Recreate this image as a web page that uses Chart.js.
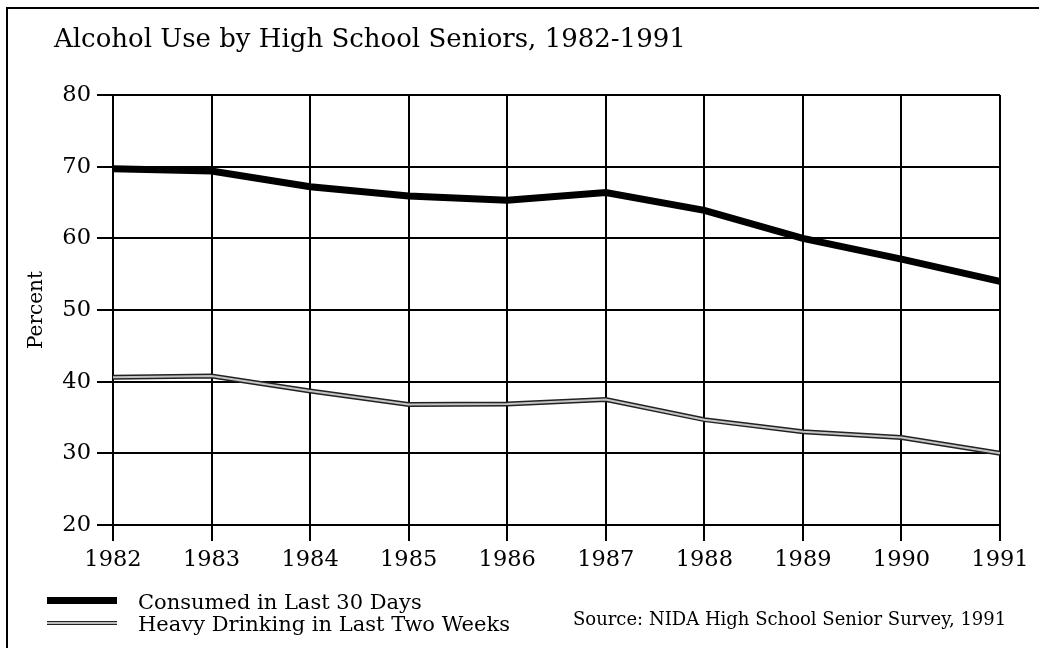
<!DOCTYPE html>
<html>
<head>
<meta charset="utf-8">
<script src="https://cdn.jsdelivr.net/npm/chart.js@4/dist/chart.umd.min.js"></script>
<style>
  html, body { margin: 0; padding: 0; background: #fff; }
  #wrap { position: relative; width: 1039px; height: 648px; overflow: hidden; font-family: 'DejaVu Serif', serif; color: #000; }
  #frame { position: absolute; left: 6px; top: 7px; width: 1100px; height: 700px; border-left: 2px solid #000; border-top: 2px solid #000; }
  #chart { position: absolute; left: 0; top: 0; }
  .txt { position: absolute; line-height: 1; white-space: nowrap; }
  #title { left: 54px; top: 25px; font-size: 26px; }
  .legend-row { position: absolute; left: 47px; height: 22px; }
  .swatch { position: absolute; left: 0; width: 70px; }
  .sw-solid { height: 7px; background: #000; }
  .sw-double { height: 2px; background: #bbb; border-top: 1.5px solid #222; border-bottom: 1.5px solid #222; }
  .legend-row span { position: absolute; left: 91px; top: 0; font-size: 21px; line-height: 1; white-space: nowrap; }
  #source { left: 573px; top: 610px; font-size: 18px; }
</style>
</head>
<body>
<div id="wrap">
  <div id="frame"></div>
  <canvas id="chart" width="1039" height="648"></canvas>
  <div class="txt" id="title">Alcohol Use by High School Seniors, 1982-1991</div>
  <div class="legend-row" style="top:592px"><div class="swatch sw-solid" style="top:5px"></div><span>Consumed in Last 30 Days</span></div>
  <div class="legend-row" style="top:614px"><div class="swatch sw-double" style="top:7px"></div><span>Heavy Drinking in Last Two Weeks</span></div>
  <div class="txt" id="source">Source: NIDA High School Senior Survey, 1991</div>
</div>
<script>
const years = ['1982', '1983', '1984', '1985', '1986', '1987', '1988', '1989', '1990', '1991'];
const consumed30Days = [69.7, 69.4, 67.2, 65.9, 65.3, 66.4, 63.9, 60.0, 57.1, 54.0];
const heavyDrinking = [40.6, 40.8, 38.7, 36.8, 36.9, 37.5, 34.7, 33.0, 32.2, 30.0];
const yMin = 20;
const yMax = 80;
const yStep = 10;

const serif = 'DejaVu Serif';

new Chart(document.getElementById('chart'), {
    type: 'line',
    data: {
        labels: years,
        datasets: [
            {
                label: 'Consumed in Last 30 Days',
                data: consumed30Days,
                borderColor: '#000',
                borderWidth: 7,
                pointRadius: 0,
                tension: 0,
                order: 0
            },
            {
                // dark outer edge of the double line
                label: 'Heavy Drinking in Last Two Weeks',
                data: heavyDrinking,
                borderColor: '#222',
                borderWidth: 5,
                pointRadius: 0,
                tension: 0,
                order: 2
            },
            {
                // light middle of the double line, drawn on top
                label: 'Heavy Drinking (inner)',
                data: heavyDrinking,
                borderColor: '#c4c4c4',
                borderWidth: 2,
                pointRadius: 0,
                tension: 0,
                order: 1
            }
        ]
    },
    options: {
        responsive: false,
        devicePixelRatio: 1,
        animation: false,
        layout: { padding: { left: 0, top: 95, right: 39, bottom: 0 } },
        plugins: {
            legend: { display: false },
            tooltip: { enabled: false }
        },
        scales: {
            x: {
                offset: false,
                afterFit: scale => { scale.height = 123; },
                grid: { color: '#000', lineWidth: 2, tickLength: 16, tickColor: '#000' },
                border: { color: '#000', width: 2 },
                ticks: { color: '#000', padding: 6, maxRotation: 0, font: { family: serif, size: 22.5 } }
            },
            y: {
                min: yMin,
                max: yMax,
                afterFit: scale => { scale.width = 113; },
                grid: { color: '#000', lineWidth: 2, tickLength: 16, tickColor: '#000' },
                border: { color: '#000', width: 2 },
                ticks: { stepSize: yStep, color: '#000', padding: 6, font: { family: serif, size: 22.5 } },
                title: {
                    display: true,
                    text: 'Percent',
                    color: '#000',
                    padding: { top: 25, bottom: 0 },
                    font: { family: serif, size: 20 }
                }
            }
        }
    }
});
</script>
</body>
</html>
